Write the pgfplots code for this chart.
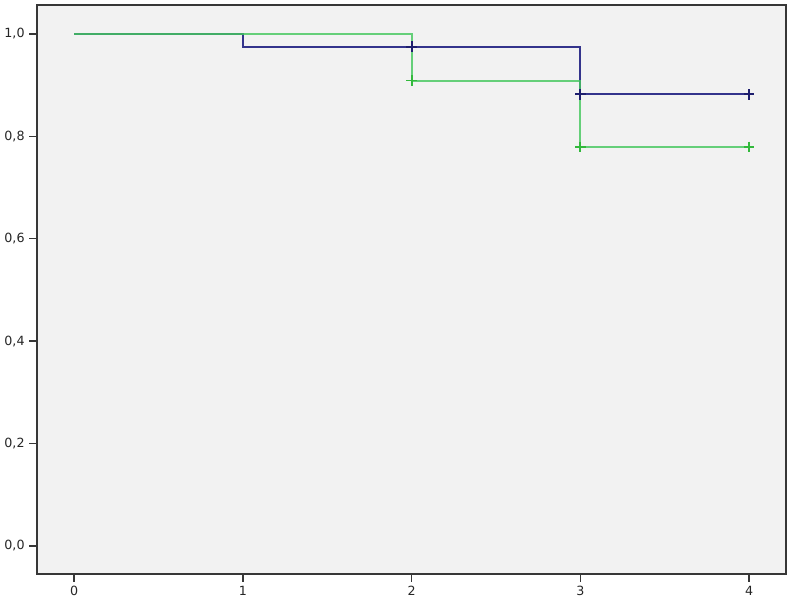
\documentclass[border=0pt]{standalone}
\usepackage{pgfplots}
\pgfplotsset{compat=1.18}
\usepackage{fontspec}
\setmainfont{DejaVu Sans}

\definecolor{bgc}{RGB}{242,242,242}
\definecolor{framec}{RGB}{55,55,55}
\definecolor{kmblue}{RGB}{52,52,140}
\definecolor{kmblueM}{RGB}{30,30,110}
\definecolor{kmgreen}{RGB}{70,200,95}
\definecolor{kmgreenM}{RGB}{50,185,60}

\begin{document}
\begin{tikzpicture}
\begin{axis}[
  scale only axis,
  width=561.75pt, height=426.75pt,
  xmin=-0.219, xmax=4.219,
  ymin=-0.0547, ymax=1.0566,
  xtick={0,1,2,3,4},
  ytick={0,0.2,0.4,0.6,0.8,1.0},
  yticklabel style={/pgf/number format/.cd,fixed,fixed zerofill,precision=1,use comma},
  /pgf/number format/assume math mode=true,
  tick label style={font=\fontsize{9.5}{11}\selectfont, text=black!85},
  tick align=outside,
  major tick length=6pt,
  tick style={framec, line width=1.2pt},
  xtick pos=bottom, ytick pos=left,
  axis line style={framec, line width=1.4pt},
  axis background/.style={fill=bgc},
]
\addplot[const plot, kmblue, line width=1.4pt] coordinates {(0,1)(1,0.975)(3,0.882)(4,0.882)};
\addplot[const plot, kmgreen, opacity=0.82, line width=1.5pt] coordinates {(0,1)(2,0.909)(3,0.779)(4,0.779)};
\addplot[only marks, mark=+, mark size=4pt, kmblueM, mark options={line width=1.4pt}] coordinates {(2,0.975)(3,0.882)(4,0.882)};
\addplot[only marks, mark=+, mark size=4pt, kmgreenM, mark options={line width=1.4pt}] coordinates {(2,0.909)(3,0.779)(4,0.779)};
\end{axis}
\path (current axis.south west) ++(-27.75pt,-22.5pt) coordinate (bl);
\path (current axis.north east) ++(5.25pt,3.75pt) coordinate (tr);
\useasboundingbox (bl) rectangle (tr);
\end{tikzpicture}
\end{document}
